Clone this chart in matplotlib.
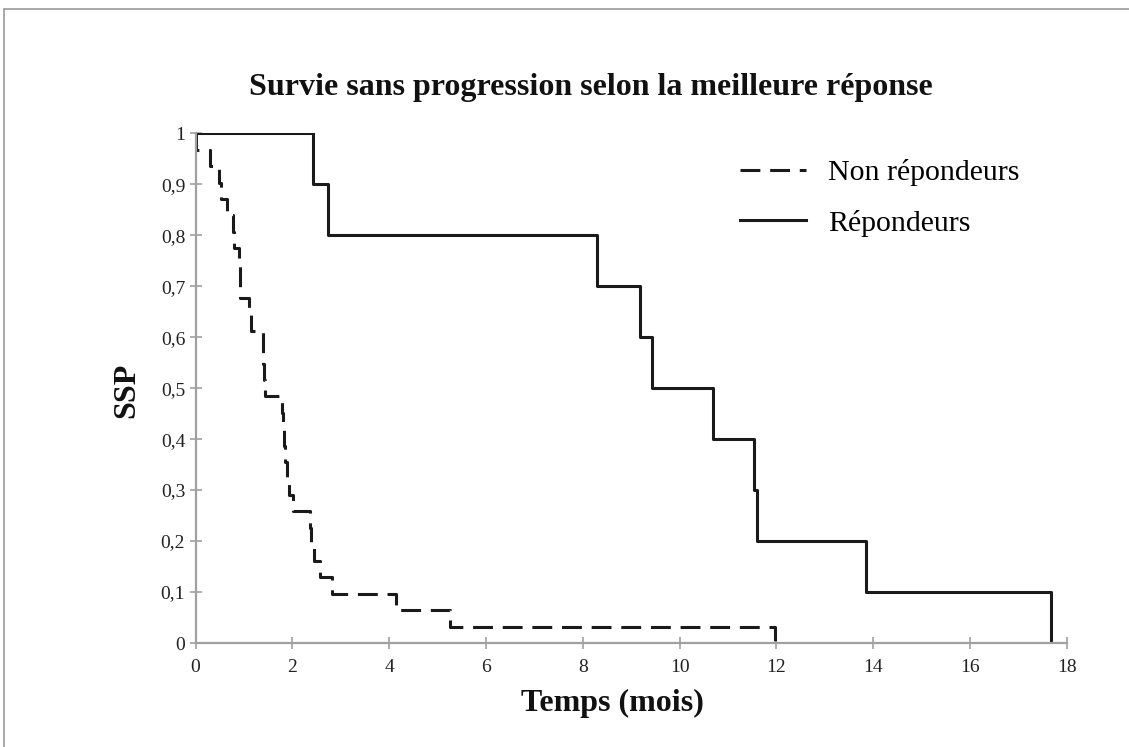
import matplotlib
matplotlib.use("Agg")
import matplotlib.pyplot as plt
from matplotlib.patches import Rectangle

# Non répondeurs (dashed): event times (mois) and survival after each event
nr_times = [0.0, 0.0, 0.30, 0.49, 0.52, 0.64, 0.78, 0.80, 0.90, 0.91, 0.92, 1.10, 1.14,
            1.39, 1.40, 1.42, 1.44, 1.78, 1.80, 1.82, 1.84, 1.88, 1.92, 2.02,
            2.37, 2.38, 2.45, 2.57, 2.82, 4.14, 5.26, 11.97]
nr_surv = [1.0, 0.968, 0.935, 0.903, 0.871, 0.839, 0.806, 0.774, 0.742, 0.710, 0.677,
           0.645, 0.613, 0.581, 0.548, 0.516, 0.484, 0.452, 0.419, 0.387, 0.355,
           0.323, 0.290, 0.258, 0.226, 0.194, 0.161, 0.129, 0.097, 0.065, 0.032, 0.0]

# Répondeurs (solid)
r_times = [0.0, 2.43, 2.74, 8.30, 9.18, 9.43, 10.69, 11.54, 11.61, 13.86, 17.68]
r_surv = [1.0, 0.9, 0.8, 0.7, 0.6, 0.5, 0.4, 0.3, 0.2, 0.1, 0.0]

x_ticks = list(range(0, 19, 2))
y_ticks = [0, 0.1, 0.2, 0.3, 0.4, 0.5, 0.6, 0.7, 0.8, 0.9, 1]
y_labels = ["0", "0,1", "0,2", "0,3", "0,4", "0,5", "0,6", "0,7", "0,8", "0,9", "1"]

title = "Survie sans progression selon la meilleure réponse"
xlabel = "Temps (mois)"
ylabel = "SSP"
labels = ["Non répondeurs", "Répondeurs"]

plt.rcParams['font.family'] = ['Liberation Serif', 'DejaVu Serif']

W, H = 1129, 747
fig = plt.figure(figsize=(W / 100, H / 100), dpi=100)
fig.patch.set_facecolor('white')

# outer frame (cropped on right and bottom)
fig.patches.append(Rectangle((4 / W, -0.1), 1.2, (H - 9) / H + 0.1,
                             transform=fig.transFigure, fill=False,
                             edgecolor='#9a9a9a', linewidth=1.2))

x0, x1, ytop, ybot = 195.6, 1066.7, 133.3, 643.0
ax = fig.add_axes([x0 / W, (H - ybot) / H, (x1 - x0) / W, (ybot - ytop) / H])

ax.step(nr_times, nr_surv, where='post', color='#1a1a1a', linewidth=2.2,
        linestyle=(0, (6.5, 3.2)), label=labels[0])
ax.step(r_times, r_surv, where='post', color='#1a1a1a', linewidth=2.2,
        label=labels[1])

ax.set_xlim(0, 18)
ax.set_ylim(0, 1)
ax.set_xticks(x_ticks)
ax.set_xticklabels([str(v) for v in x_ticks])
ax.set_yticks(y_ticks)
ax.set_yticklabels(y_labels)

for s in ['top', 'right']:
    ax.spines[s].set_visible(False)
for s in ['left', 'bottom']:
    ax.spines[s].set_color('#a0a0a0')
    ax.spines[s].set_linewidth(1.6)
ax.tick_params(axis='both', direction='inout', length=9, width=1.2,
               color='#a0a0a0', labelsize=14, labelcolor='#222222')
ax.tick_params(axis='x', pad=7)
ax.tick_params(axis='y', pad=3)

fig.text(612 / W, 1 - 703 / H, xlabel, ha='center', va='center',
         fontsize=23, fontweight='bold', color='#111111')
fig.text(127 / W, 1 - 390 / H, ylabel, ha='center', va='center', rotation=90,
         fontsize=23, fontweight='bold', color='#111111')
fig.text(591 / W, 1 - 87 / H, title, ha='center', va='center',
         fontsize=23, fontweight='bold', color='#111111')

ax_w, ax_h = x1 - x0, ybot - ytop
leg = ax.legend(loc='upper left',
                bbox_to_anchor=((740 - x0) / ax_w, (ybot - 159) / ax_h),
                frameon=False, fontsize=21.5, handlelength=2.2, handletextpad=0.75,
                labelspacing=0.8, borderpad=0, borderaxespad=0)

fig.savefig('out.png', dpi=100, facecolor='white')
